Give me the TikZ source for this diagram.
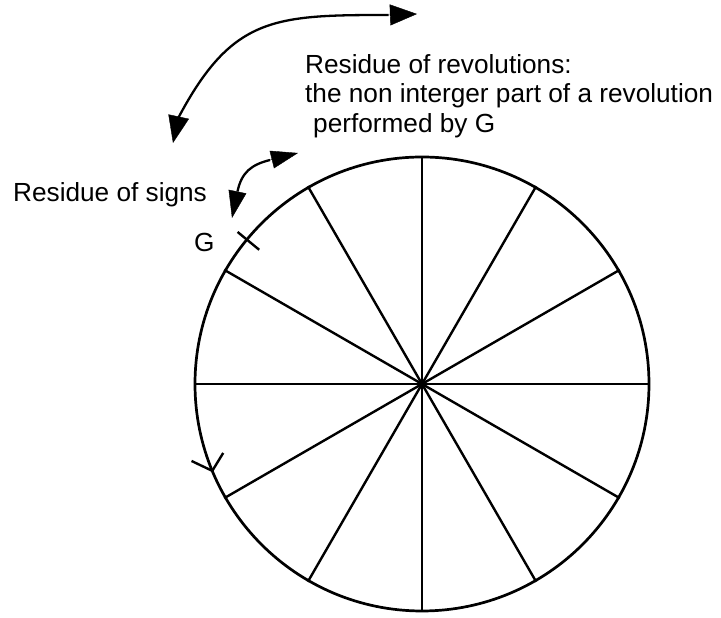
\documentclass[tikz,border=0pt]{standalone}
\usepackage{fontspec}
\setmainfont{Liberation Sans}
\usetikzlibrary{arrows.meta, calc}

\begin{document}
\begin{tikzpicture}[
    x=1pt, y=1pt,
    wheel/.style={draw, circle, line width=2.7pt, minimum size=454pt, inner sep=0pt},
    spoke/.style={line width=2.4pt},
    swing/.style={line width=2.3pt},
    bigtip/.style={-{Triangle[length=27pt, width=21pt]}},
    smalltip/.style={-{Triangle[length=27pt, width=18pt]}},
    note/.style={anchor=base west, inner sep=0pt, font=\fontsize{26.2}{30}\selectfont},
]
    \useasboundingbox (0,0) rectangle (721,618);

    % the dial with its twelve signs
    \node[wheel] (wheel) at (422,234) {};
    \foreach \a in {0,30,...,330}
        \draw[spoke] (wheel.center) -- (wheel.\a);

    % marks on the rim
    \draw[spoke] ($(wheel.center)+(140.5:211)$) -- ($(wheel.center)+(140.5:239)$);
    \coordinate (ymark) at ($(wheel.center)+(202.5:227)$);
    \draw[spoke] (ymark) -- ++(154.5:23);
    \draw[spoke] (ymark) -- ++(58.6:21);

    % residue of revolutions
    \coordinate (revlo) at (173,475);
    \coordinate (revlobase) at (178.5,500.5);
    \coordinate (revhi) at (417,604);
    \coordinate (revhibase) at (388.5,603);
    \draw[swing] (revlobase) to[out=62, in=180, looseness=1.25] (revhibase);
    \draw[bigtip] (revlobase) -- (revlo);
    \draw[bigtip] (revhibase) -- (revhi);

    % residue of signs
    \coordinate (signlo) at (232,400);
    \coordinate (signlobase) at (237.5,426.5);
    \coordinate (signhi) at (298,465);
    \coordinate (signhibase) at (270,458);
    \draw[swing] (signlobase) to[out=78, in=194, looseness=1.1] (signhibase);
    \draw[smalltip] (signlobase) -- (signlo);
    \draw[smalltip] (signhibase) -- (signhi);

    \node[note] (rev1) at (305,544) {Residue of revolutions:};
    \node[note] (rev2) at (305,515) {the non interger part of a revolution};
    \node[note] (rev3) at (313,485) {performed by G};
    \node[note] (signs) at (13,416) {Residue of signs};
    \node[note] (g) at (194,366) {G};
\end{tikzpicture}
\end{document}
